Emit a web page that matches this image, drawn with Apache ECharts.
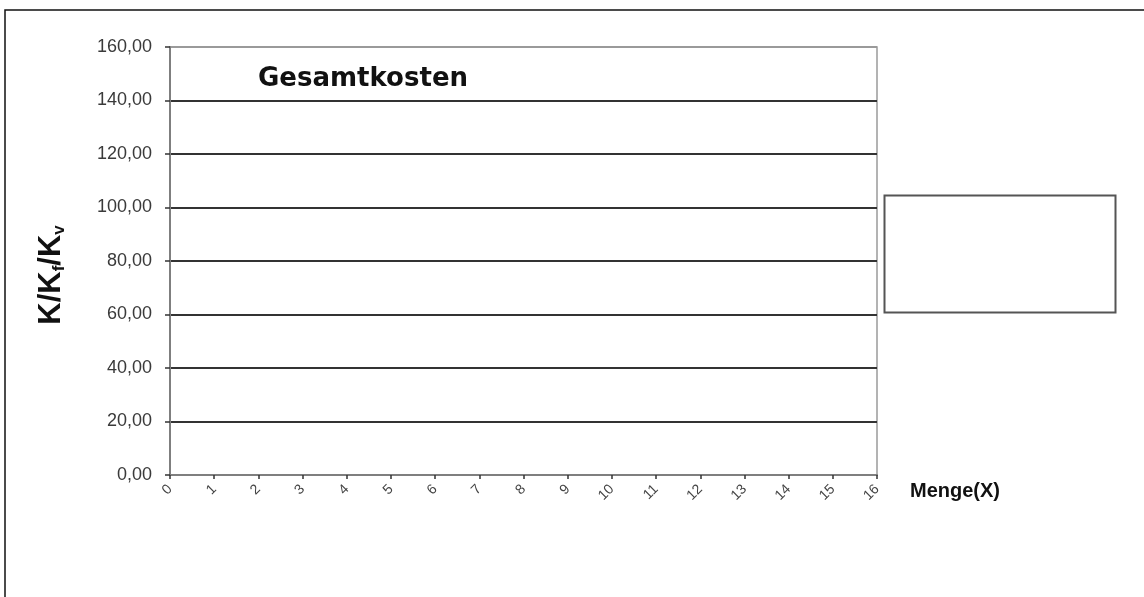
<!DOCTYPE html>
<html>
<head>
<meta charset="utf-8">
<script src="https://cdn.jsdelivr.net/npm/echarts@6/dist/echarts.min.js"></script>
<style>
  html, body { margin: 0; padding: 0; background: #fff; }
  #chart { width: 1144px; height: 597px; }
</style>
</head>
<body>
<div id="chart"></div>
<script>
// Axis ranges and tick steps (Menge on x, Kosten on y)
const xTicks = [0, 1, 2, 3, 4, 5, 6, 7, 8, 9, 10, 11, 12, 13, 14, 15, 16];
const yTicks = [0, 20, 40, 60, 80, 100, 120, 140, 160];

// Cost series: total, fixed and variable costs (template, no values entered yet)
const seriesNames = ['K', 'Kf', 'Kv'];
const kTotal = [];
const kFixed = [];
const kVar = [];

const chart = echarts.init(document.getElementById('chart'), null, { renderer: 'canvas' });

const fmtComma = v => v.toFixed(2).replace('.', ',');
const SANS = 'Liberation Sans, Arial, sans-serif';

// split lines: bottom hidden under axis, top one lighter like the plot frame
const splitColors = yTicks.map((v, i) => i === yTicks.length - 1 ? '#9a9a9a' : '#333333');

chart.setOption({
  animation: false,
  backgroundColor: '#fff',
  grid: {
    left: 170, right: 267, top: 47, bottom: 122,
    show: true, borderColor: '#9a9a9a', borderWidth: 1.5, backgroundColor: 'transparent'
  },
  title: {
    text: 'Gesamtkosten',
    left: 258, top: 66, padding: 0,
    textStyle: { fontFamily: 'DejaVu Sans', fontWeight: 'bold', fontSize: 26, color: '#111' }
  },
  legend: { show: false },
  xAxis: {
    type: 'value',
    min: xTicks[0], max: xTicks[xTicks.length - 1], interval: 1,
    name: 'Menge(X)',
    nameLocation: 'end',
    nameGap: 33,
    nameTextStyle: {
      fontFamily: SANS, fontWeight: 'bold', fontSize: 20, color: '#111',
      align: 'left', verticalAlign: 'top', padding: [6, 0, 0, 0]
    },
    axisLine: { show: true, onZero: false, lineStyle: { color: '#7f7f7f', width: 2 } },
    axisTick: { show: true, inside: false, length: 4, lineStyle: { color: '#333', width: 1.5 } },
    axisLabel: {
      rotate: 45, margin: 12,
      fontFamily: SANS, fontSize: 14, color: '#444'
    },
    splitLine: { show: false }
  },
  yAxis: {
    type: 'value',
    min: yTicks[0], max: yTicks[yTicks.length - 1], interval: 20,
    axisLine: { show: true, lineStyle: { color: '#7f7f7f', width: 2 } },
    axisTick: { show: true, inside: false, length: 5, lineStyle: { color: '#333', width: 1.5 } },
    axisLabel: {
      margin: 18, formatter: fmtComma,
      fontFamily: SANS, fontSize: 18, color: '#3a3a3a'
    },
    splitLine: { show: true, lineStyle: { color: splitColors, width: 1.8 } }
  },
  series: [
    { name: seriesNames[0], type: 'line', data: kTotal, showSymbol: false },
    { name: seriesNames[1], type: 'line', data: kFixed, showSymbol: false },
    { name: seriesNames[2], type: 'line', data: kVar, showSymbol: false }
  ],
  graphic: [
    // vertical axis title K/Kf/Kv with subscripts
    { type: 'text', silent: true, z: 100,
      x: 51, y: 275, rotation: Math.PI / 2,
      style: {
        text: '{a|K/K}{s|f}{a|/K}{s|v}',
        align: 'center', verticalAlign: 'middle',
        rich: {
          a: { fontFamily: SANS, fontWeight: 'bold', fontSize: 31, fill: '#111' },
          s: { fontFamily: SANS, fontWeight: 'bold', fontSize: 17, fill: '#111',
               verticalAlign: 'bottom', padding: [16, 0, 0, 0] }
        }
      } },
    // outer chart frame (only top and left edges fall inside the view)
    { type: 'rect', silent: true, z: 100,
      shape: { x: 5, y: 10, width: 1400, height: 800 },
      style: { fill: 'none', stroke: '#111', lineWidth: 1.5 } },
    // empty legend frame
    { type: 'rect', silent: true, z: 100,
      shape: { x: 884.5, y: 195.5, width: 231, height: 117 },
      style: { fill: '#fff', stroke: '#555', lineWidth: 2 } }
  ]
});
</script>
</body>
</html>
